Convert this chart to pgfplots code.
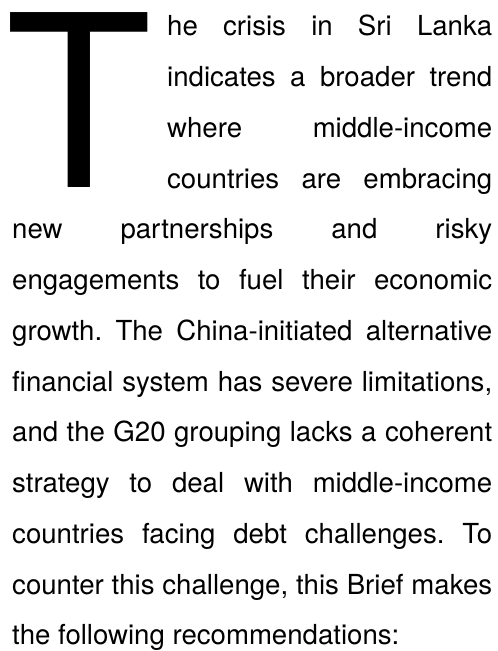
\documentclass[border=0pt]{standalone}
\usepackage{fontspec}
\setmainfont{TeX Gyre Heros}
\usepackage{pgfplots}
\pgfplotsset{compat=1.18}
\frenchspacing
\begin{document}
\begin{tikzpicture}
\begin{axis}[width=498pt,height=651pt,scale only axis,xmin=0,xmax=498,ymin=0,ymax=651,hide axis,clip=false]
\addplot[draw=none,mark=none] coordinates {(0,0) (498,651)};
\path (axis cs:0,0) rectangle (axis cs:498,651);
\tikzset{tl/.style={anchor=base west,inner sep=0pt,font=\fontsize{27.6}{50.7}\selectfont\frenchspacing}}
\node[anchor=base west,inner sep=0pt,font=\fontsize{240}{240}\selectfont] at (axis cs:5.5,463) {\raisebox{0pt}[\height][0pt]{T}};
\node[tl] at (axis cs:167,615) {\makebox[325pt][s]{he crisis in Sri Lanka}};
\node[tl] at (axis cs:167,564.25) {\makebox[325pt][s]{indicates a broader trend}};
\node[tl] at (axis cs:167,513.5) {\makebox[325pt][s]{where middle-income}};
\node[tl] at (axis cs:167,462.75) {\makebox[325pt][s]{countries are embracing}};
\node[tl] at (axis cs:12,412) {\makebox[480pt][s]{new partnerships and risky}};
\node[tl] at (axis cs:12,361.25) {\makebox[480pt][s]{engagements to fuel their economic}};
\node[tl] at (axis cs:12,310.5) {\makebox[480pt][s]{growth. The China-initiated alternative}};
\node[tl] at (axis cs:12,259.75) {\makebox[480pt][s]{financial system has severe limitations,}};
\node[tl] at (axis cs:12,209) {\makebox[480pt][s]{and the G20 grouping lacks a coherent}};
\node[tl] at (axis cs:12,158.25) {\makebox[480pt][s]{strategy to deal with middle-income}};
\node[tl] at (axis cs:12,107.5) {\makebox[480pt][s]{countries facing debt challenges. To}};
\node[tl] at (axis cs:12,56.75) {\makebox[480pt][s]{counter this challenge, this Brief makes}};
\node[tl] at (axis cs:12,6) {the following recommendations:};
\end{axis}
\end{tikzpicture}
\end{document}
